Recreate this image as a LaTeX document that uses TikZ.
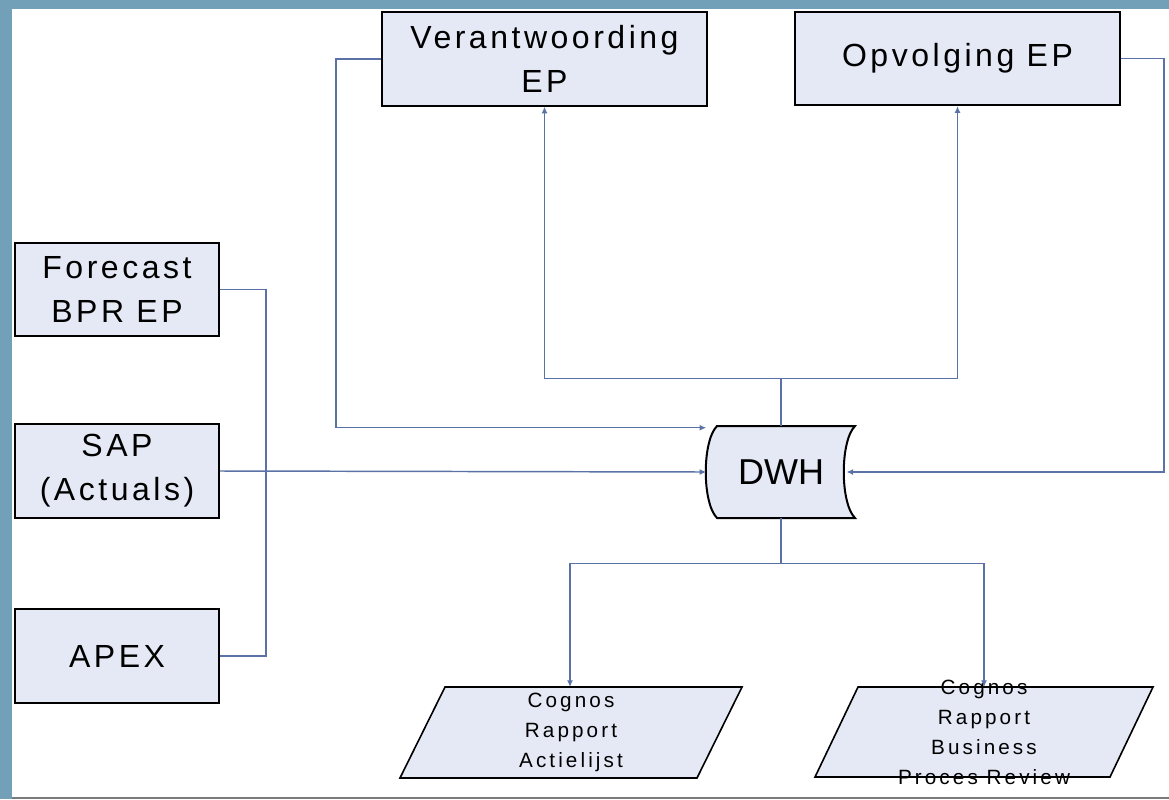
\documentclass[tikz,border=0pt]{standalone}
\usepackage{fontspec}
\setmainfont{Liberation Sans}
\newfontfamily\boxfont[LetterSpace=11]{Liberation Sans}
\newfontfamily\repfont[LetterSpace=15]{Liberation Sans}
\usetikzlibrary{arrows.meta,positioning}
\definecolor{framebg}{HTML}{72A0B9}
\definecolor{boxfill}{HTML}{E4E9F5}
\definecolor{linkcol}{HTML}{5A72A6}
\definecolor{rulegray}{HTML}{7A7A7A}

\begin{document}
\begin{tikzpicture}
[x=0.75pt, y=-0.75pt,
box/.style={rectangle, draw=black, line width=1.5pt, fill=boxfill, inner sep=0pt, align=center, font=\boxfont\fontsize{24}{33}\selectfont},
srcbox/.style={box, minimum width=153pt, minimum height=70pt},
topbox/.style={box, minimum width=244pt, minimum height=70pt},
shapeline/.style={draw=black, fill=boxfill},
store/.style={rectangle, inner sep=0pt, minimum width=111.75pt, minimum height=69pt, font=\fontsize{27}{30}\selectfont},
reptext/.style={align=center, inner sep=0pt, font=\repfont\fontsize{15.5}{22.5}\selectfont},
link/.style={draw=linkcol, line width=1.1pt},
arr/.style={link, -{Latex[length=5pt,width=4.5pt]}}]

\useasboundingbox (0,0) rectangle (1169,799);
\fill[framebg] (0,0) rectangle (1169,799);
\fill[white] (12,9) rectangle (1169,797);
\fill[rulegray] (12,797) rectangle (1169,799);

\node[srcbox] (forecast) at (117,289.5) {Forecast\\BPR EP};
\node[srcbox] (sap) at (117,471) {SAP\\(Actuals)};
\node[srcbox] (apex) at (117,656) {APEX};

\node[topbox] (verant) at (544.5,59) {Verantwoording\\EP};
\node[topbox] (opv) at (957.5,58.5) {Opvolging EP};

\draw[shapeline, line width=1.5pt] (717,426) -- (855,426)
  .. controls (840,441) and (840,503) .. (855,518) -- (717,518)
  .. controls (702,503) and (702,441) .. (717,426) -- cycle;
\node[store] (dwh) at (781,472) {DWH};

\draw[shapeline, line width=1.2pt] (445,687) -- (742,687) -- (697,778) -- (400,778) -- cycle;
\draw[shapeline, line width=1.2pt] (858,687) -- (1153,687) -- (1110,777) -- (815,777) -- cycle;
\coordinate (rep1in) at (570,687);
\coordinate (rep2in) at (984,687);
\node[reptext] (rep1) at (571,732.5) {Cognos\\Rapport\\Actielijst};
\node[reptext] (rep2) at (984,732) {Cognos\\Rapport\\Business\\Proces Review};

\draw[link] (forecast.east) -- ++(46,0) |- (apex.east);
\draw[arr] (sap.east) -- (dwh.west);

\draw[arr] (verant.west) -- ++(-45,0) |- ([yshift=-1.5pt]dwh.north west);
\draw[arr] (opv.east) -- ++(43,0) |- ([xshift=-7pt]dwh.east);

\draw[arr] (dwh.north) -- ++(0,-47) -| (verant.south);
\draw[arr] (dwh.north) -- ++(0,-47) -| (opv.south);

\draw[arr] (dwh.south) -- ++(0,45) -| (rep1in);
\draw[arr] (dwh.south) -- ++(0,45) -| (rep2in);
\end{tikzpicture}
\end{document}
